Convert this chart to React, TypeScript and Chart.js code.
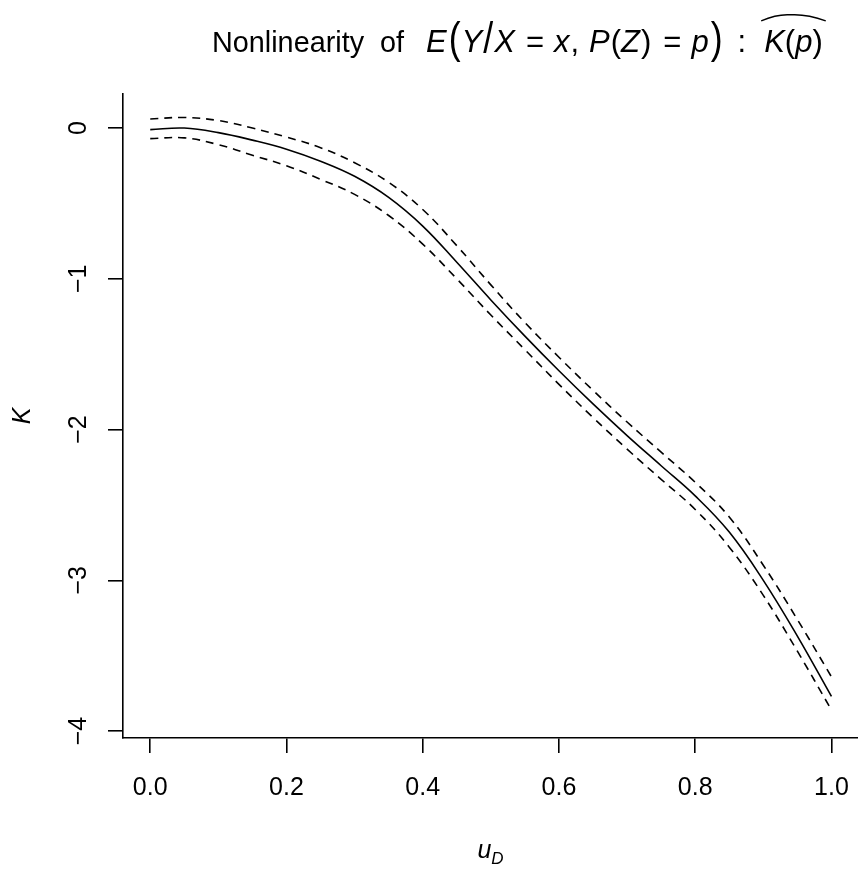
import React, { useEffect, useRef } from "react";
import { Chart, registerables } from "chart.js";

Chart.register(...registerables);

// ---- data ----
const uGrid = [0, 0.05, 0.1, 0.15, 0.2, 0.25, 0.3, 0.35, 0.4, 0.45, 0.5, 0.55, 0.6, 0.65, 0.7, 0.75, 0.8, 0.85, 0.9, 0.95, 1.0];
const kEstimate = [-0.01, 0.0, -0.03, -0.08, -0.14, -0.22, -0.32, -0.46, -0.65, -0.89, -1.14, -1.38, -1.61, -1.83, -2.04, -2.24, -2.44, -2.68, -3.0, -3.37, -3.77];
const kUpper = [0.06, 0.07, 0.05, 0.0, -0.06, -0.13, -0.23, -0.36, -0.54, -0.78, -1.04, -1.29, -1.52, -1.74, -1.95, -2.15, -2.35, -2.58, -2.9, -3.26, -3.64];
const kLower = [-0.07, -0.065, -0.11, -0.18, -0.25, -0.34, -0.44, -0.58, -0.77, -1.0, -1.24, -1.47, -1.7, -1.92, -2.13, -2.33, -2.53, -2.78, -3.1, -3.47, -3.86];

const xTickValues = [0, 0.2, 0.4, 0.6, 0.8, 1.0];
const xTickLabels = ["0.0", "0.2", "0.4", "0.6", "0.8", "1.0"];
const yTickValues = [0, -1, -2, -3, -4];
const yTickLabels = ["0", "\u22121", "\u22122", "\u22123", "\u22124"];

const FONT = "'Liberation Sans', Arial, Helvetica, sans-serif";

type Piece = { t: string; italic?: boolean; big?: boolean; gap?: number };
const titleText = "Nonlinearity  of";
const titlePieces: Piece[] = [
  { t: "E", italic: true, gap: 22 },
  { t: "(", big: true, gap: 2 },
  { t: "Y", italic: true, gap: 1 },
  { t: "/", big: true, gap: 1 },
  { t: "X", italic: true, gap: 1 },
  { t: "=", gap: 11 },
  { t: "x", italic: true, gap: 10 },
  { t: ",", gap: 1 },
  { t: "P", italic: true, gap: 10 },
  { t: "(", gap: 1 },
  { t: "Z", italic: true, gap: 0 },
  { t: ")", gap: 1 },
  { t: "=", gap: 12 },
  { t: "p", italic: true, gap: 10 },
  { t: ")", big: true, gap: 2 },
  { t: ":", gap: 15 },
];
const hatPieces: Piece[] = [
  { t: "K", italic: true, gap: 18 },
  { t: "(", gap: 0 },
  { t: "p", italic: true, gap: 0 },
  { t: ")", gap: 0 },
];

const textPlugin = {
  id: "rText",
  afterDraw(chart: any) {
    const ctx: CanvasRenderingContext2D = chart.ctx;
    const xs = chart.scales.x;
    const ys = chart.scales.y;
    ctx.save();
    ctx.fillStyle = "#000";
    ctx.strokeStyle = "#000";

    // x tick labels
    ctx.font = `25px ${FONT}`;
    ctx.textAlign = "center";
    ctx.textBaseline = "alphabetic";
    xTickValues.forEach((v, i) => {
      ctx.fillText(xTickLabels[i], xs.getPixelForValue(v), 795);
    });
    // y tick labels (rotated)
    yTickValues.forEach((v, i) => {
      const py = ys.getPixelForValue(v);
      ctx.save();
      ctx.translate(86, py);
      ctx.rotate(-Math.PI / 2);
      ctx.fillText(yTickLabels[i], 0, 0);
      ctx.restore();
    });

    // y axis title "K"
    ctx.save();
    ctx.font = `italic 25px ${FONT}`;
    ctx.translate(30, (ys.top + ys.bottom) / 2);
    ctx.rotate(-Math.PI / 2);
    ctx.fillText("K", 0, 0);
    ctx.restore();

    // x axis title u_D
    ctx.textAlign = "left";
    ctx.font = `italic 25px ${FONT}`;
    const wu = ctx.measureText("u").width;
    ctx.font = `italic 17px ${FONT}`;
    const wd = ctx.measureText("D").width;
    const cx = (xs.left + xs.right) / 2;
    const sx = cx - (wu + wd) / 2;
    ctx.font = `italic 25px ${FONT}`;
    ctx.fillText("u", sx, 858);
    ctx.font = `italic 17px ${FONT}`;
    ctx.fillText("D", sx + wu, 864);

    // title
    const FT = 28.8;
    const FM = 31;
    const base = 52;
    let x = 212;
    ctx.font = `${FT}px ${FONT}`;
    ctx.fillText(titleText, x, base);
    x += ctx.measureText(titleText).width;
    const drawPiece = (p: Piece) => {
      x += p.gap || 0;
      ctx.font = `${p.italic ? "italic " : ""}${FM}px ${FONT}`;
      const w = ctx.measureText(p.t).width;
      if (p.big) {
        ctx.save();
        ctx.translate(x, base + 1);
        ctx.scale(1.15, 1.45);
        ctx.fillText(p.t, 0, 0);
        ctx.restore();
        x += w * 1.15;
      } else {
        ctx.fillText(p.t, x, base);
        x += w;
      }
    };
    titlePieces.forEach(drawPiece);
    const hatStart = x + (hatPieces[0].gap || 0);
    hatPieces.forEach(drawPiece);
    const hatEnd = x;
    const capTop = base - FM * 0.716;
    const peakY = capTop - 15;
    const endY = capTop - 9;
    const peakX = hatStart + (hatEnd - hatStart) * 0.45;
    ctx.lineWidth = 1.4;
    ctx.beginPath();
    ctx.moveTo(hatStart - 3, endY);
    ctx.quadraticCurveTo(hatStart + (peakX - hatStart) * 0.5, peakY - 1, peakX, peakY);
    ctx.quadraticCurveTo(peakX + (hatEnd - peakX) * 0.5, peakY - 1, hatEnd + 3, endY);
    ctx.stroke();

    ctx.restore();
  },
};

export default function App() {
  const ref = useRef<HTMLCanvasElement | null>(null);
  useEffect(() => {
    if (!ref.current) return;
    const toPts = (ys: number[]) => uGrid.map((u, i) => ({ x: u, y: ys[i] }));
    const lineStyle = {
      borderColor: "#000",
      borderWidth: 1.6,
      pointRadius: 0,
      tension: 0.4,
      fill: false,
    };
    const chart = new Chart(ref.current, {
      type: "line",
      data: {
        datasets: [
          { data: toPts(kEstimate), ...lineStyle },
          { data: toPts(kUpper), ...lineStyle, borderDash: [8, 6] },
          { data: toPts(kLower), ...lineStyle, borderDash: [8, 6] },
        ],
      },
      options: {
        responsive: false,
        maintainAspectRatio: false,
        animation: false,
        devicePixelRatio: 1,
        layout: { padding: { top: 94, right: 0, left: 0, bottom: 0 } },
        plugins: {
          legend: { display: false },
          tooltip: { enabled: false },
          title: { display: false },
        },
        scales: {
          x: {
            type: "linear",
            min: -0.04,
            max: 1.039,
            afterBuildTicks: (s: any) => {
              s.ticks = xTickValues.map((v) => ({ value: v }));
            },
            afterFit: (s: any) => {
              s.height = 871 - 738;
            },
            ticks: { display: false },
            grid: {
              display: true,
              drawOnChartArea: false,
              drawTicks: true,
              tickLength: 15,
              color: "#000",
              lineWidth: 1.6,
            },
            border: { display: true, color: "#000", width: 1.6 },
          },
          y: {
            type: "linear",
            min: -4.046,
            max: 0.226,
            afterBuildTicks: (s: any) => {
              s.ticks = yTickValues.map((v) => ({ value: v }));
            },
            afterFit: (s: any) => {
              s.width = 123;
            },
            ticks: { display: false },
            grid: {
              display: true,
              drawOnChartArea: false,
              drawTicks: true,
              tickLength: 15,
              color: "#000",
              lineWidth: 1.6,
            },
            border: { display: true, color: "#000", width: 1.6 },
          },
        },
      } as any,
      plugins: [textPlugin],
    });
    return () => chart.destroy();
  }, []);

  return (
    <div style={{ position: "absolute", left: 0, top: 0, width: 858, height: 871, background: "#fff" }}>
      <canvas ref={ref} width={858} height={871} style={{ width: 858, height: 871, display: "block" }} />
    </div>
  );
}
